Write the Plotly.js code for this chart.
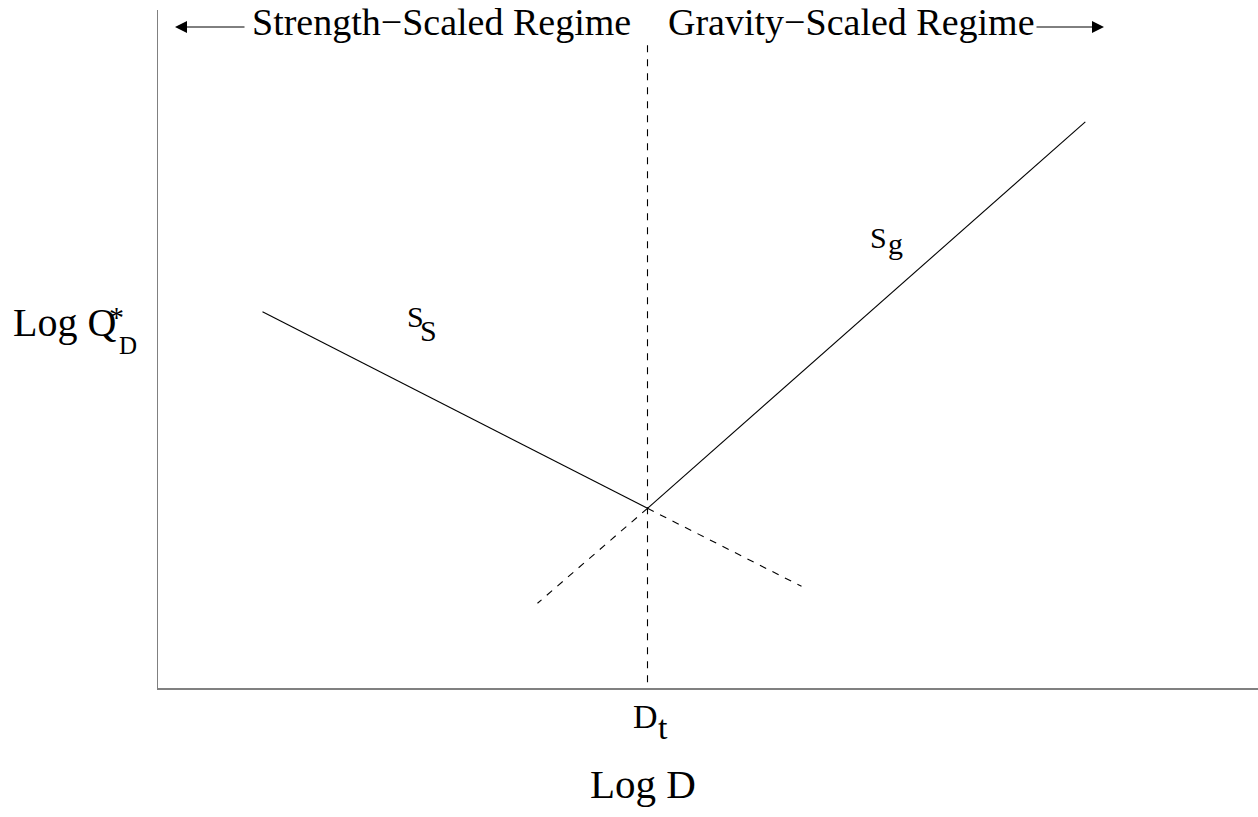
<!DOCTYPE html>
<html>
<head>
<meta charset="utf-8">
<script src="https://cdn.plot.ly/plotly-3.0.1.min.js"></script>
<style>html,body{margin:0;padding:0;background:#fff;}#chart{width:1258px;height:817px;}</style>
</head>
<body>
<div id="chart"></div>
<script>
// Schematic values (log units)
const strengthX = [0.95, 4.45];
const strengthY = [5.55, 2.65];
const strengthExtX = [4.45, 5.85];
const strengthExtY = [2.65, 1.50];
const gravityX = [4.45, 8.43];
const gravityY = [2.65, 8.35];
const gravityExtX = [4.45, 3.45];
const gravityExtY = [2.65, 1.25];
const transitionX = [4.45, 4.45];
const transitionY = [9.48, 0];

const regimeLabels = ["Strength\u2212Scaled Regime", "Gravity\u2212Scaled Regime"];

// layout geometry
const W = 1258, H = 817, ML = 158, MR = 0, MT = 10, MB = 129;
const XR = [0, 10], YR = [0, 10];
const pw = W - ML - MR, ph = H - MT - MB;
const fx = p => (p - ML) / pw;          // pixel -> paper x
const fy = p => (H - MB - p) / ph;      // pixel -> paper y

const FONT = "Liberation Serif, Times New Roman, serif";
const solid = {color: "#000", width: 1.1};
const dashed = {color: "#000", width: 1.1, dash: "7px,7px"};

const traces = [
  {x: strengthX, y: strengthY, mode: "lines", line: solid, hoverinfo: "skip"},
  {x: strengthExtX, y: strengthExtY, mode: "lines", line: dashed, hoverinfo: "skip"},
  {x: gravityX, y: gravityY, mode: "lines", line: solid, hoverinfo: "skip"},
  {x: gravityExtX, y: gravityExtY, mode: "lines", line: dashed, hoverinfo: "skip"},
  {x: transitionX, y: transitionY, mode: "lines", line: dashed, hoverinfo: "skip"}
];

function txt(text, cx, cy, size, anchor) {
  return {text: text, x: fx(cx), y: fy(cy), xref: "paper", yref: "paper",
    xanchor: anchor || "center", yanchor: "middle", showarrow: false,
    font: {family: FONT, size: size, color: "#000"}};
}
function arrow(headX, tailX, yy) {
  return {text: "", x: fx(headX), y: fy(yy), ax: fx(tailX), ay: fy(yy),
    xref: "paper", yref: "paper", axref: "paper", ayref: "paper", showarrow: true,
    arrowhead: 2, arrowsize: 2.4, arrowwidth: 1, arrowcolor: "#000", standoff: 0};
}

const annotations = [
  txt(regimeLabels[0], 441.5, 21.5, 38),
  txt(regimeLabels[1], 851.5, 21.5, 38),
  arrow(175, 246, 27),
  arrow(1104, 1035, 27),
  txt("Log Q", 11, 322, 40, "left"),
  txt("*", 116.5, 316, 30),
  txt("D", 127.5, 345, 25),
  txt("S", 415, 316, 30),
  txt("S", 428.5, 330, 30),
  txt("S", 879, 237, 30),
  txt("g", 895, 243.5, 30),
  txt("D", 645.5, 716.5, 34),
  txt("t", 662.5, 727, 34),
  txt("Log D", 643, 784, 41)
];

const layout = {
  width: W, height: H,
  margin: {l: ML, r: MR, t: MT, b: MB, pad: 0},
  paper_bgcolor: "#fff", plot_bgcolor: "#fff",
  showlegend: false,
  xaxis: {range: XR, showline: true, linecolor: "#808080", linewidth: 1.5,
    showgrid: false, zeroline: false, showticklabels: false, ticks: "", fixedrange: true},
  yaxis: {range: YR, showline: true, linecolor: "#808080", linewidth: 1.5,
    showgrid: false, zeroline: false, showticklabels: false, ticks: "", fixedrange: true},
  annotations: annotations
};

Plotly.newPlot("chart", traces, layout, {displayModeBar: false, staticPlot: true});
</script>
</body>
</html>
